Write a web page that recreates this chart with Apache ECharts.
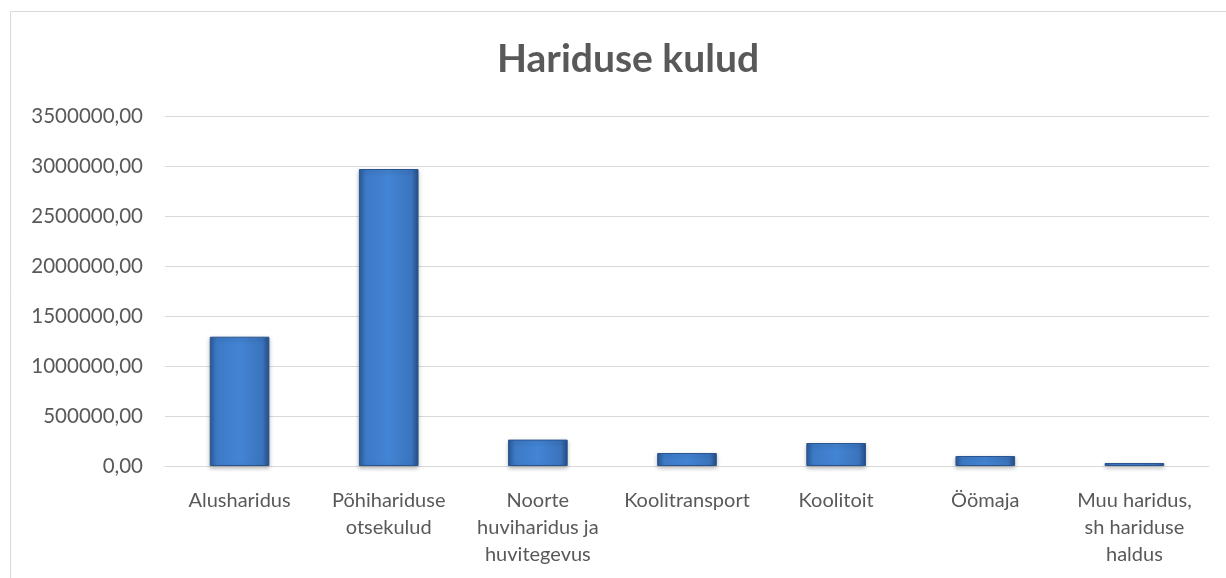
<!DOCTYPE html>
<html>
<head>
<meta charset="utf-8">
<script src="https://cdn.jsdelivr.net/npm/echarts@6/dist/echarts.min.js"></script>
<style>
html,body{margin:0;padding:0;background:#fff;}
#c{width:1226px;height:578px;}
</style>
</head>
<body>
<div id="c"></div>
<script>
const titleText = 'Hariduse kulud';
const categories = [
  'Alusharidus',
  'Põhihariduse\notsekulud',
  'Noorte\nhuviharidus ja\nhuvitegevus',
  'Koolitransport',
  'Koolitoit',
  'Öömaja',
  'Muu haridus,\nsh hariduse\nhaldus'
];
const values = [1293000, 2970000, 264000, 130000, 230000, 100000, 30000];
const yMin = 0, yMax = 3500000, yStep = 500000;

const chart = echarts.init(document.getElementById('c'));
const textColor = '#595959';
const fontFam = 'Lato, "Open Sans", sans-serif';
chart.setOption({
  animation: false,
  backgroundColor: '#fff',
  graphic: [{
    type: 'rect',
    shape: {x: 10.5, y: 11.5, width: 1240, height: 620},
    style: {fill: 'none', stroke: '#d9d9d9', lineWidth: 1},
    silent: true
  }],
  title: {
    text: titleText,
    left: 492,
    top: 35,
    textStyle: {color: textColor, fontSize: 39, fontWeight: 'bold', fontFamily: fontFam}
  },
  grid: {left: 165, right: 17, top: 116, bottom: 112, containLabel: false},
  xAxis: {
    type: 'category',
    data: categories,
    axisLine: {show: true, lineStyle: {color: '#d9d9d9', width: 1}},
    axisTick: {show: false},
    axisLabel: {
      interval: 0,
      color: textColor,
      fontSize: 20,
      fontFamily: fontFam,
      lineHeight: 27,
      margin: 21
    }
  },
  yAxis: {
    type: 'value',
    min: yMin, max: yMax, interval: yStep,
    axisLine: {show: false},
    axisTick: {show: false},
    splitLine: {lineStyle: {color: '#d9d9d9', width: 1}},
    axisLabel: {
      color: textColor,
      fontSize: 20.5,
      fontFamily: fontFam,
      margin: 22,
      formatter: v => v.toFixed(2).replace('.', ',')
    }
  },
  series: [{
    type: 'bar',
    data: values,
    barWidth: '40%',
    itemStyle: {
      color: new echarts.graphic.LinearGradient(0, 0, 1, 0, [
        {offset: 0, color: '#2b5a98'},
        {offset: 0.12, color: '#3d7ac6'},
        {offset: 0.5, color: '#4384d4'},
        {offset: 0.88, color: '#3a74bd'},
        {offset: 1, color: '#274f87'}
      ]),
      borderColor: '#2a5590',
      borderWidth: 1,
      shadowColor: 'rgba(0,0,0,0.25)',
      shadowBlur: 4,
      shadowOffsetY: 2
    }
  }]
});
</script>
</body>
</html>
